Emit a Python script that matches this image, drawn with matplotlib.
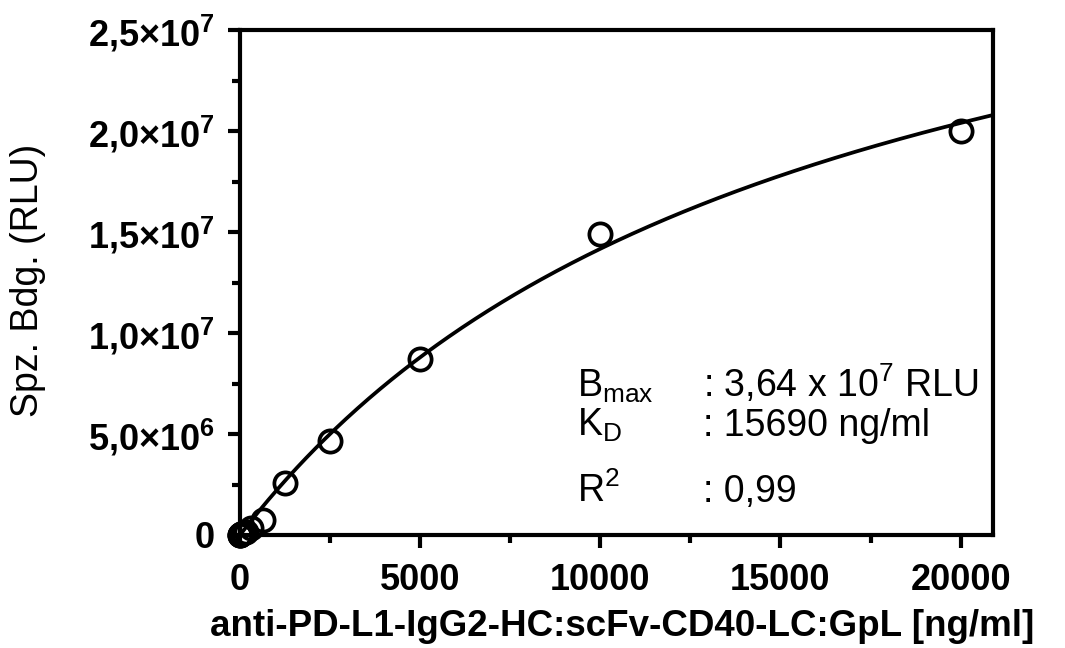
import numpy as np
import matplotlib
matplotlib.use("Agg")
import matplotlib.pyplot as plt
from matplotlib.ticker import FixedLocator, MultipleLocator

plt.rcParams['font.family'] = ['Liberation Sans', 'DejaVu Sans']
plt.rcParams['mathtext.fontset'] = 'custom'
plt.rcParams['mathtext.rm'] = 'Liberation Sans'
plt.rcParams['mathtext.it'] = 'Liberation Sans:italic'
plt.rcParams['mathtext.bf'] = 'Liberation Sans:bold'

# Data
conc = [0, 4.9, 9.8, 19.5, 39, 78, 156, 312.5, 625, 1250, 2500, 5000, 10000, 20000]
signal = [0.0, 0.01e6, 0.02e6, 0.03e6, 0.05e6, 0.08e6, 0.16e6, 0.35e6, 0.75e6,
          2.55e6, 4.65e6, 8.7e6, 1.49e7, 2.0e7]

# Fit parameters (from annotation)
bmax = 3.64e7
kd = 15690.0

xticks = [0, 5000, 10000, 15000, 20000]
xticklabels = ['0', '5000', '10000', '15000', '20000']
yticks = [0, 5e6, 1e7, 1.5e7, 2e7, 2.5e7]
yticklabels = ['0', r'5,0×10$^{\mathbf{6}}$', r'1,0×10$^{\mathbf{7}}$', r'1,5×10$^{\mathbf{7}}$',
               r'2,0×10$^{\mathbf{7}}$', r'2,5×10$^{\mathbf{7}}$']

W, H = 1065, 648
fig = plt.figure(figsize=(W / 100, H / 100), dpi=100)
ax = fig.add_axes([240 / W, 1 - 535 / H, (993 - 240) / W, (535 - 30) / H])

xfit = np.linspace(0, 21000, 400)
yfit = bmax * xfit / (kd + xfit)
ax.plot(xfit, yfit, color='black', lw=2.7, zorder=2)
ax.plot(conc, signal, linestyle='none', marker='o', markersize=16,
        markerfacecolor='none', markeredgecolor='black', markeredgewidth=2.7,
        clip_on=False, zorder=3)

ax.set_xlim(0, 20900)
ax.set_ylim(0, 2.5e7)
ax.xaxis.set_major_locator(FixedLocator(xticks))
ax.xaxis.set_minor_locator(MultipleLocator(2500))
ax.yaxis.set_major_locator(FixedLocator(yticks))
ax.yaxis.set_minor_locator(MultipleLocator(2.5e6))
ax.set_xticklabels(xticklabels, fontsize=26, fontweight='bold')
ax.set_yticklabels(yticklabels, fontsize=26, fontweight='bold')

for s in ax.spines.values():
    s.set_linewidth(3)
ax.tick_params(which='major', direction='out', length=9, width=3)
ax.tick_params(which='minor', direction='out', length=6, width=3)
ax.tick_params(axis='x', which='major', pad=11)
ax.tick_params(axis='y', which='major', pad=9)

fig.text(622 / W, 1 - 626 / H, 'anti-PD-L1-IgG2-HC:scFv-CD40-LC:GpL [ng/ml]',
         ha='center', va='center', fontsize=26.5, fontweight='bold')
fig.text(28 / W, 1 - 280 / H, 'Spz. Bdg. (RLU)', ha='center', va='center',
         rotation=90, fontsize=27)

def ftxt(x, y, s):
    fig.text(x / W, 1 - y / H, s, ha='left', va='baseline', fontsize=27)

ftxt(577, 397, r'B$_{\mathrm{max}}$')
ftxt(703, 397, r': 3,64 x 10$^{\mathrm{7}}$ RLU')
ftxt(577, 436, r'K$_{\mathrm{D}}$')
ftxt(703, 436, ': 15690 ng/ml')
ftxt(577, 502, r'R$^{\mathrm{2}}$')
ftxt(703, 502, ': 0,99')

fig.savefig('out.png', dpi=100)
